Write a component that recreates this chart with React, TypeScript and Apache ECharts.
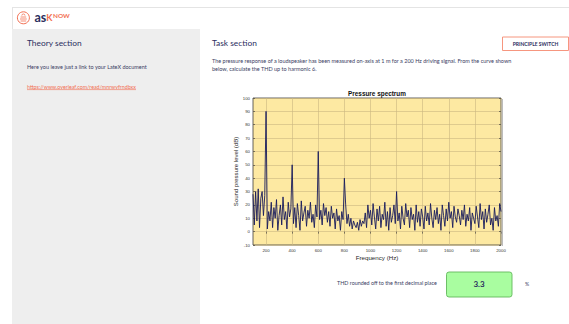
import React, { useEffect, useRef } from "react";
import * as echarts from "echarts";

const chartTitle = "Pressure spectrum";
const xAxisName = "Frequency (Hz)";
const yAxisName = "Sound pressure level (dB)";
const xTickLabels = [200, 400, 600, 800, 1000, 1200, 1400, 1600, 1800, 2000];
const yMin = -10;
const yMax = 100;
const yStep = 10;

const frequencyHz = [
  100, 110, 120, 130, 140, 150, 160, 170, 180, 190,
  200, 210, 220, 230, 240, 250, 260, 270, 280, 290,
  300, 310, 320, 330, 340, 350, 360, 370, 380, 390,
  400, 410, 420, 430, 440, 450, 460, 470, 480, 490,
  500, 510, 520, 530, 540, 550, 560, 570, 580, 590,
  600, 610, 620, 630, 640, 650, 660, 670, 680, 690,
  700, 710, 720, 730, 740, 750, 760, 770, 780, 790,
  800, 810, 820, 830, 840, 850, 860, 870, 880, 890,
  900, 910, 920, 930, 940, 950, 960, 970, 980, 990,
  1000, 1010, 1020, 1030, 1040, 1050, 1060, 1070, 1080, 1090,
  1100, 1110, 1120, 1130, 1140, 1150, 1160, 1170, 1180, 1190,
  1200, 1210, 1220, 1230, 1240, 1250, 1260, 1270, 1280, 1290,
  1300, 1310, 1320, 1330, 1340, 1350, 1360, 1370, 1380, 1390,
  1400, 1410, 1420, 1430, 1440, 1450, 1460, 1470, 1480, 1490,
  1500, 1510, 1520, 1530, 1540, 1550, 1560, 1570, 1580, 1590,
  1600, 1610, 1620, 1630, 1640, 1650, 1660, 1670, 1680, 1690,
  1700, 1710, 1720, 1730, 1740, 1750, 1760, 1770, 1780, 1790,
  1800, 1810, 1820, 1830, 1840, 1850, 1860, 1870, 1880, 1890,
  1900, 1910, 1920, 1930, 1940, 1950, 1960, 1970, 1980, 1990,
  2000,
];

const levelDb = [
  28, 5, 30, 8, 32, 3, 25, 30, 12, 27,
  90, 2, 15, 8, 22, 3, 18, 10, 24, 1,
  12, 20, 5, 26, 9, 15, 2, 22, 11, 17,
  50, 6, 18, 3, 21, 12, 1, 23, 8, 14,
  19, 4, 16, 10, 22, 7, 13, 3, 20, 11,
  60, 9, 16, 5, 21, 12, 18, 7, 15, 4,
  19, 10, 14, 2, 17, 8, 12, 1, 15, 9,
  40, 20, 6, 13, 4, 10, 2, 8, 5, 3,
  7, 1, 9, 4, 8, 6, 14, 3, 20, 10,
  16, 5, 21, 11, 2, 17, 8, 19, 3, 13,
  9, 22, 4, 15, 1, 18, 7, 12, 20, 6,
  30, 8, 14, 2, 19, 10, 5, 21, 11, 16,
  3, 18, 9, 13, 1, 20, 7, 15, 4, 17,
  11, 2, 19, 8, 14, 5, 21, 10, 3, 16,
  9, 18, 6, 13, 1, 20, 12, 4, 17, 8,
  22, 10, 15, 3, 19, 11, 7, 17, 12, 5,
  16, 9, 20, 4, 13, 8, 18, 1, 14, 10,
  6, 19, 11, 3, 21, 9, 15, 2, 17, 7,
  13, 20, 5, 10, 1, 18, 8, 12, 4, 21,
  15,
];

const thdAnswer = "3.3";

const NAVY = "#2b2e5e";
const ORANGE = "#f26f52";
const UI_FONT = "Lato, 'Noto Sans', sans-serif";
const PLOT_FONT = "'Liberation Sans', Arial, sans-serif";

export default function App() {
  const ref = useRef<HTMLDivElement>(null);

  useEffect(() => {
    if (!ref.current) return;
    const chart = echarts.init(ref.current, undefined, { renderer: "svg" });

    const txt = (
      text: string,
      x: number,
      y: number,
      size: number,
      fill: string,
      opts: any = {}
    ) => ({
      type: "text",
      x,
      y,
      silent: true,
      z: opts.z ?? 10,
      style: {
        text,
        fill,
        fontSize: size,
        fontFamily: opts.font ?? UI_FONT,
        fontWeight: opts.weight ?? "normal",
        align: opts.align ?? "left",
        verticalAlign: "middle",
      },
    });

    const option: any = {
      animation: false,
      backgroundColor: "#ffffff",
      grid: {
        left: 253,
        top: 98,
        width: 248,
        height: 147,
        show: true,
        backgroundColor: "#fde9a2",
        borderColor: "#3c3c3c",
        borderWidth: 0.8,
        containLabel: false,
      },
      xAxis: [
        {
          type: "value",
          min: 100,
          max: 2000,
          interval: 100,
          position: "bottom",
          name: xAxisName,
          nameLocation: "middle",
          nameGap: 9,
          nameTextStyle: { fontSize: 6.2, color: "#262626", fontFamily: PLOT_FONT },
          axisLine: { show: false },
          axisTick: { show: false },
          axisLabel: {
            fontSize: 4.3,
            color: "#333",
            margin: 3,
            fontFamily: PLOT_FONT,
            formatter: (v: number) => (xTickLabels.includes(v) ? String(v) : ""),
          },
          splitLine: {
            show: true,
            lineStyle: { color: ["rgba(0,0,0,0)", "#cbb781"], width: 0.6 },
          },
        },
        {
          type: "value",
          min: 100,
          max: 2000,
          interval: 100,
          position: "top",
          axisLine: { show: false },
          axisTick: {
            show: true,
            inside: true,
            length: 2,
            customValues: xTickLabels,
            lineStyle: { color: "#333", width: 0.6 },
          },
          axisLabel: { show: false },
          splitLine: { show: false },
        },
      ],
      yAxis: [
        {
          type: "value",
          min: yMin,
          max: yMax,
          interval: yStep,
          name: yAxisName,
          nameLocation: "middle",
          nameGap: 10,
          nameRotate: 90,
          nameTextStyle: { fontSize: 6, color: "#262626", fontFamily: PLOT_FONT },
          axisLine: { show: false },
          axisTick: { show: true, inside: true, length: 2, lineStyle: { color: "#333", width: 0.6 } },
          axisLabel: { fontSize: 4.3, color: "#333", margin: 3, fontFamily: PLOT_FONT },
          splitLine: { show: true, lineStyle: { color: "#cbb781", width: 0.6 } },
        },
        {
          type: "value",
          min: yMin,
          max: yMax,
          interval: yStep,
          position: "right",
          axisLine: { show: false },
          axisTick: { show: true, inside: true, length: 2, lineStyle: { color: "#333", width: 0.6 } },
          axisLabel: { show: false },
          splitLine: { show: false },
        },
      ],
      series: [
        {
          type: "line",
          data: frequencyHz.map((f, i) => [f, levelDb[i]]),
          symbol: "none",
          showSymbol: false,
          clip: true,
          lineStyle: { color: "#171b5c", width: 0.9 },
          z: 3,
        },
      ],
      graphic: {
        elements: [
          // page frame / header
          { type: "rect", silent: true, z: 0, shape: { x: 12, y: 29, width: 188, height: 300 }, style: { fill: "#eeeeee" } },
          { type: "line", silent: true, shape: { x1: 12, y1: 7.5, x2: 569, y2: 7.5 }, style: { stroke: "#e4e4e4", lineWidth: 1 } },
          { type: "line", silent: true, shape: { x1: 12.5, y1: 7.5, x2: 12.5, y2: 29 }, style: { stroke: "#e4e4e4", lineWidth: 1 } },
          // logo
          { type: "circle", silent: true, shape: { cx: 23.4, cy: 17.8, r: 6 }, style: { fill: "none", stroke: ORANGE, lineWidth: 1 } },
          { type: "arc", silent: true, shape: { cx: 23.4, cy: 15.6, r: 1.6, startAngle: Math.PI, endAngle: 2 * Math.PI }, style: { fill: "none", stroke: ORANGE, lineWidth: 0.8 } },
          { type: "line", silent: true, shape: { x1: 20.6, y1: 17, x2: 26.2, y2: 17 }, style: { stroke: ORANGE, lineWidth: 0.8 } },
          { type: "line", silent: true, shape: { x1: 20, y1: 19, x2: 26.8, y2: 19 }, style: { stroke: ORANGE, lineWidth: 0.8 } },
          { type: "line", silent: true, shape: { x1: 20.6, y1: 21, x2: 26.2, y2: 21 }, style: { stroke: ORANGE, lineWidth: 0.8 } },
          txt("as", 34.5, 17.6, 12.5, NAVY, { weight: "bold" }),
          txt("K", 46.2, 17.3, 9, ORANGE, { weight: "bold" }),
          txt("NOW", 53, 15.8, 6.4, ORANGE, { weight: "bold" }),
          // theory section
          txt("Theory section", 27, 43.3, 8.4, NAVY),
          txt("Here you leave just a link to your LateX document", 27, 66.8, 5.5, "#3a3d63"),
          txt("https://www.overleaf.com/read/mnrwvfrndbxx", 27, 87.2, 5.3, ORANGE),
          { type: "line", silent: true, shape: { x1: 27, y1: 89.6, x2: 136, y2: 89.6 }, style: { stroke: ORANGE, lineWidth: 0.6 } },
          // task section
          txt("Task section", 212, 42.7, 8.4, NAVY),
          { type: "rect", silent: true, shape: { x: 502.5, y: 37, width: 66, height: 13.5 }, style: { fill: "#fff", stroke: "#f58a70", lineWidth: 0.9 } },
          txt("PRINCIPLE SWITCH", 535.5, 43.6, 5, NAVY, { weight: "bold", align: "center" }),
          txt(
            "The pressure response of a loudspeaker has been measured on-axis at 1 m for a 200 Hz driving signal. From the curve shown",
            212, 60.7, 5.5, "#3a3d63"
          ),
          txt("below, calculate the THD up to harmonic 6.", 212, 69.3, 5.5, "#3a3d63"),
          // chart title and shadow
          txt(chartTitle, 377, 93.6, 6.4, "#111", { weight: "bold", align: "center", font: PLOT_FONT }),
          { type: "rect", silent: true, z: 1, shape: { x: 501.6, y: 99, width: 1.3, height: 147 }, style: { fill: "#b5b5b5" } },
          // answer row
          txt("THD rounded off to the first decimal place", 337, 283.3, 5.4, "#3a3d63"),
          { type: "rect", silent: true, shape: { x: 446.5, y: 272, width: 65.5, height: 25, r: 2.5 }, style: { fill: "#a9fda0", stroke: "#62b85b", lineWidth: 0.9 } },
          txt(thdAnswer, 479, 284.2, 8, NAVY, { weight: "bold", align: "center" }),
          txt("%", 525, 284, 5.2, "#3a3d63"),
        ],
      },
    };

    chart.setOption(option);
    return () => chart.dispose();
  }, []);

  return (
    <div
      ref={ref}
      style={{ position: "absolute", left: 0, top: 0, width: 569, height: 324 }}
    />
  );
}
